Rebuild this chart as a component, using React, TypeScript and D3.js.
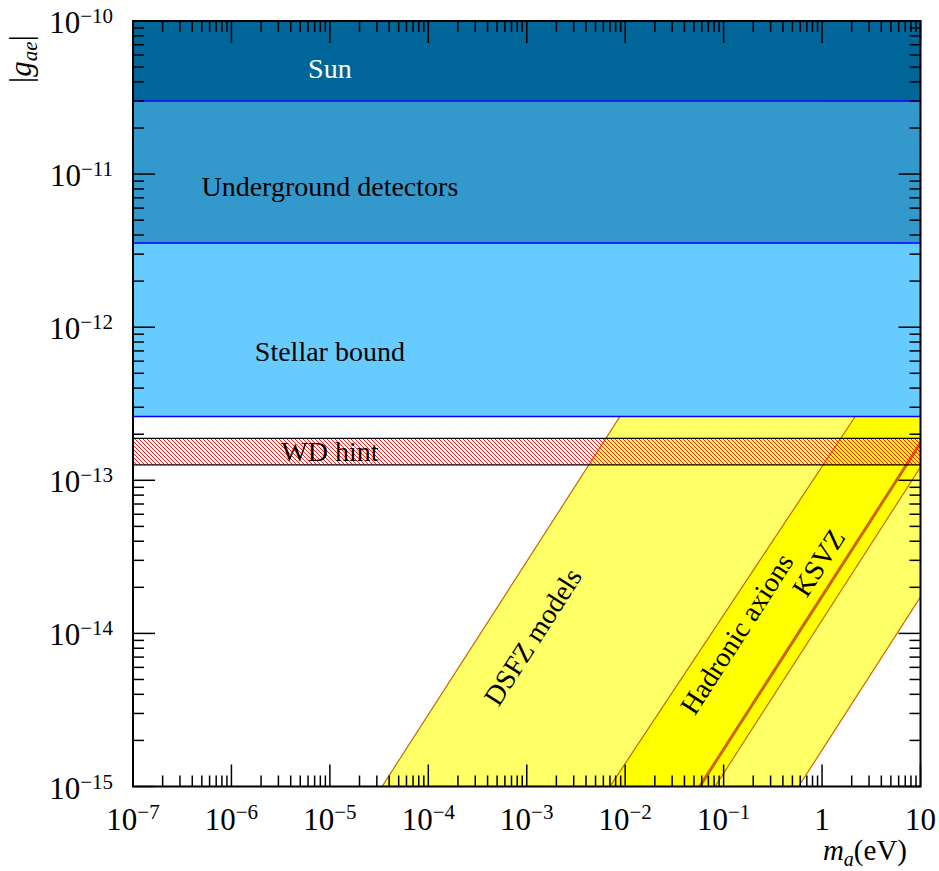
import React from 'react';
import * as d3 from 'd3';

const W = 939;
const H = 871;

// axis domains
const xDomain: [number, number] = [1e-7, 10];
const yDomain: [number, number] = [1e-15, 1e-10];
const xMajorExps = [-7, -6, -5, -4, -3, -2, -1, 0, 1];
const yMajorExps = [-10, -11, -12, -13, -14, -15];
const xTickLabels = ['10|−7', '10|−6', '10|−5', '10|−4', '10|−3', '10|−2', '10|−1', '1', '10'];
const yTickLabels = ['10|−10', '10|−11', '10|−12', '10|−13', '10|−14', '10|−15'];

// horizontal exclusion bands (g_ae)
const bandNames = ['Sun', 'Underground detectors', 'Stellar bound'];
const bandTop = [1e-10, 3.0e-11, 3.55e-12];
const bandBottom = [3.0e-11, 3.55e-12, 2.61e-13];
const bandLabelM = [1e-5, 1e-5, 1e-5];
const bandLabelG = [4.87e-11, 8.2e-12, 6.9e-13];

// WD hint band
const wdTop = 1.88e-13;
const wdBottom = 1.26e-13;
const wdLabel = { m: 1e-5, g: 1.53e-13 };

// model lines g = k * m^p (m in eV): [DSFZ left, hadronic left, KSVZ, hadronic right, DSFZ right]
const lineK = [2.95e-11, 1.23e-13, 1.75e-14, 1.22e-14, 1.73e-15];
const lineP = [1.0, 0.97, 1.0, 1.0, 1.0];

// rotated model labels
const modelLabels = ['DSFZ models', 'Hadronic axions', 'KSVZ'];
const modelLabelM = [1.16e-3, 0.137, 0.93];
const modelLabelG = [9.46e-15, 9.9e-15, 2.88e-14];

const FONT = '"Liberation Serif", "Times New Roman", serif';

export default function App() {
  const x = d3.scaleLog().domain(xDomain).range([133, 920.5]);
  const y = d3.scaleLog().domain(yDomain).range([786.5, 21]);
  const [xL, xR] = x.range();
  const [yB, yT] = y.range();

  const gLow = 1e-16;
  const gHigh = 1e-10;
  const mAt = (i: number, g: number) => Math.pow(g / lineK[i], 1 / lineP[i]);
  const line = d3.line<[number, number]>().x(d => x(d[0])).y(d => y(d[1]));
  const poly = (iL: number, iR: number) =>
    line([
      [mAt(iL, gLow), gLow],
      [mAt(iL, gHigh), gHigh],
      [mAt(iR, gHigh), gHigh],
      [mAt(iR, gLow), gLow],
    ]) + 'Z';
  const edge = (i: number) => line([[mAt(i, gLow), gLow], [mAt(i, gHigh), gHigh]]) as string;

  const angle = -Math.atan((y(1e-15) - y(1e-14)) / (x(1) - x(0.1))) * 180 / Math.PI;

  const xMinor: number[] = [];
  for (let e = -7; e <= 0; e++) for (let k = 2; k <= 9; k++) xMinor.push(k * Math.pow(10, e));
  const yMinor: number[] = [];
  for (let e = -15; e <= -11; e++) for (let k = 2; k <= 9; k++) yMinor.push(k * Math.pow(10, e));

  const majLen = 22;
  const minLen = 11;
  const tickStroke = 1.5;

  const renderLabel = (s: string, supDy: number) => {
    const parts = s.split('|');
    if (parts.length === 1) return <tspan>{parts[0]}</tspan>;
    return (
      <>
        <tspan>{parts[0]}</tspan>
        <tspan fontSize={21} dy={supDy}>{parts[1]}</tspan>
      </>
    );
  };

  return (
    <svg width={W} height={H} style={{ position: 'absolute', left: 0, top: 0, background: '#fff' }} fontFamily={FONT}>
      <defs>
        <clipPath id="plotClip">
          <rect x={xL} y={yT} width={xR - xL} height={yB - yT} />
        </clipPath>
        <pattern id="hatch" patternUnits="userSpaceOnUse" width={4} height={4}>
          <path d="M0,0 L4,4 M-1,3 L1,5 M3,-1 L5,1" stroke="#ff0000" strokeWidth={0.9} />
        </pattern>
      </defs>
      <g clipPath="url(#plotClip)">
        <path d={poly(0, 4)} fill="#ffff66" />
        <path d={poly(1, 3)} fill="#ffff00" />
        {[0, 1, 3, 4].map(i => (
          <path key={i} d={edge(i)} fill="none" stroke="#cc6600" strokeWidth={1.2} />
        ))}
        <path d={edge(2)} fill="none" stroke="#cc6600" strokeWidth={3} />
        <rect x={xL} y={y(wdTop)} width={xR - xL} height={y(wdBottom) - y(wdTop)} fill="url(#hatch)" />
        <line x1={xL} x2={xR} y1={y(wdTop)} y2={y(wdTop)} stroke="#000" strokeWidth={1.2} />
        <line x1={xL} x2={xR} y1={y(wdBottom)} y2={y(wdBottom)} stroke="#000" strokeWidth={1.2} />
        {bandNames.map((n, i) => (
          <rect key={n} x={xL} y={y(bandTop[i])} width={xR - xL} height={y(bandBottom[i]) - y(bandTop[i])}
            fill={['#006699', '#3399cc', '#66ccff'][i]} />
        ))}
        {bandNames.map((n, i) => (
          <line key={n + 'b'} x1={xL} x2={xR} y1={y(bandBottom[i])} y2={y(bandBottom[i])} stroke="#0000ff" strokeWidth={1.5} />
        ))}
      </g>

      {bandNames.map((n, i) => (
        <text key={n + 't'} x={x(bandLabelM[i])} y={y(bandLabelG[i])} dy={9} textAnchor="middle" fontSize={28}
          fill={i === 0 ? '#ffffff' : '#000000'}>{n}</text>
      ))}
      <text x={x(wdLabel.m)} y={y(wdLabel.g)} dy={9} textAnchor="middle" fontSize={28} fill="#000">WD hint</text>
      {modelLabels.map((n, i) => {
        const cx = x(modelLabelM[i]);
        const cy = y(modelLabelG[i]);
        return (
          <text key={n} transform={`translate(${cx},${cy}) rotate(${angle})`} dy={9} textAnchor="middle" fontSize={28} fill="#000">{n}</text>
        );
      })}

      {/* ticks */}
      <g stroke="#000" strokeWidth={tickStroke}>
        {xMajorExps.map(e => {
          const px = x(Math.pow(10, e));
          return (
            <g key={'xm' + e}>
              <line x1={px} x2={px} y1={yB} y2={yB - majLen} />
              <line x1={px} x2={px} y1={yT} y2={yT + majLen} />
            </g>
          );
        })}
        {xMinor.map((v, i) => {
          const px = x(v);
          return (
            <g key={'xn' + i}>
              <line x1={px} x2={px} y1={yB} y2={yB - minLen} />
              <line x1={px} x2={px} y1={yT} y2={yT + minLen} />
            </g>
          );
        })}
        {yMajorExps.map(e => {
          const py = y(Math.pow(10, e));
          return (
            <g key={'ym' + e}>
              <line x1={xL} x2={xL + majLen} y1={py} y2={py} />
              <line x1={xR} x2={xR - majLen} y1={py} y2={py} />
            </g>
          );
        })}
        {yMinor.map((v, i) => {
          const py = y(v);
          return (
            <g key={'yn' + i}>
              <line x1={xL} x2={xL + minLen} y1={py} y2={py} />
              <line x1={xR} x2={xR - minLen} y1={py} y2={py} />
            </g>
          );
        })}
      </g>
      <rect x={xL} y={yT} width={xR - xL} height={yB - yT} fill="none" stroke="#000" strokeWidth={2} />

      {/* tick labels */}
      {xMajorExps.map((e, i) => (
        <text key={'xl' + e} x={x(Math.pow(10, e))} y={yB + 43.5} textAnchor="middle" fontSize={31} fill="#000">
          {renderLabel(xTickLabels[i], -11)}
        </text>
      ))}
      {yMajorExps.map((e, i) => (
        <text key={'yl' + e} x={113} y={y(Math.pow(10, e)) + 12} textAnchor="end" fontSize={31} fill="#000">
          {renderLabel(yTickLabels[i], -10)}
        </text>
      ))}

      {/* axis titles */}
      <text x={907} y={860} textAnchor="end" fontSize={29} fill="#000">
        <tspan fontStyle="italic">m</tspan>
        <tspan fontStyle="italic" fontSize={20} dy={6}>a</tspan>
        <tspan dy={-6}>(eV)</tspan>
      </text>
      <text transform="translate(31,59) rotate(-90)" textAnchor="middle" fontSize={31} fill="#000">
        <tspan>|</tspan>
        <tspan fontStyle="italic">g</tspan>
        <tspan fontStyle="italic" fontSize={21} dy={6}>ae</tspan>
        <tspan dy={-6}>|</tspan>
      </text>
    </svg>
  );
}
